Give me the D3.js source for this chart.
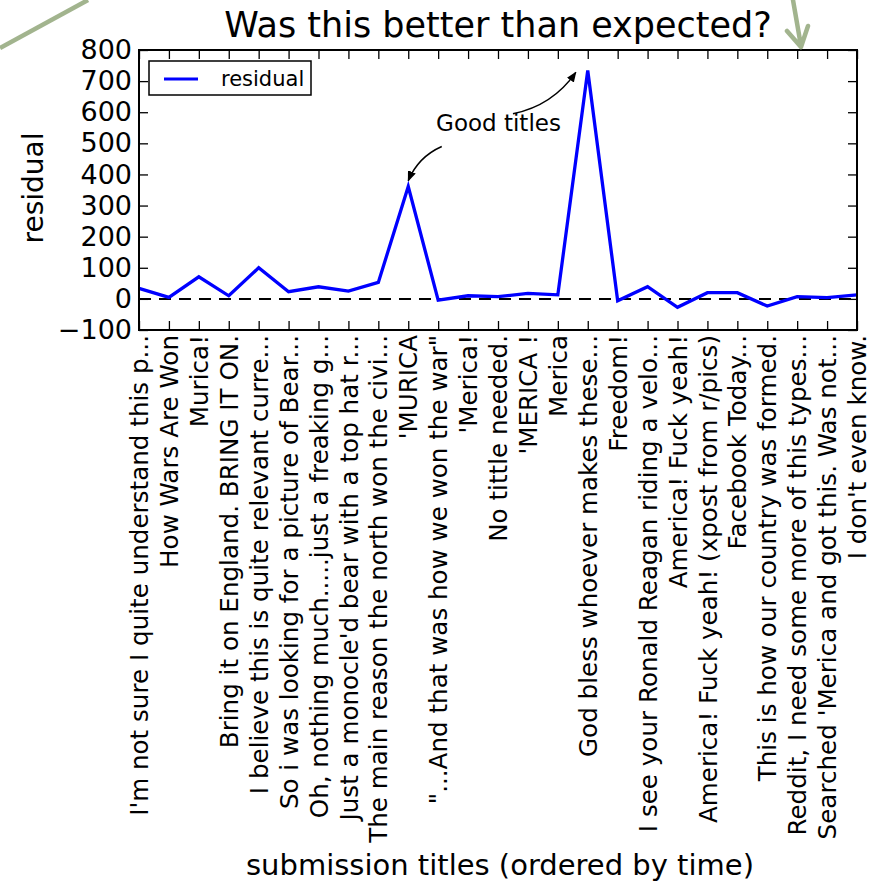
<!DOCTYPE html>
<html>
<head>
<meta charset="utf-8">
<script src="https://cdn.jsdelivr.net/npm/d3@7"></script>
<style>
  body { margin: 0; background: #fff; }
  text { font-family: "DejaVu Sans", sans-serif; fill: #000; }
</style>
</head>
<body>
<div id="chart"></div>
<script>
// submission titles, in time order
const titles = [
    "I'm not sure I quite understand this p...",
    "How Wars Are Won",
    "Murica!",
    "Bring it on England. BRING IT ON.",
    "I believe this is quite relevant curre...",
    "So i was looking for a picture of Bear...",
    "Oh, nothing much.....just a freaking g...",
    "Just a monocle'd bear with a top hat r...",
    "The main reason the north won the civi...",
    "'MURICA",
    "\"...And that was how we won the war\"",
    "'Merica!",
    "No tittle needed.",
    "'MERICA !",
    "Merica",
    "God bless whoever makes these...",
    "Freedom!",
    "I see your Ronald Reagan riding a velo...",
    "America! Fuck yeah!",
    "America! Fuck yeah! (xpost from r/pics)",
    "Facebook Today...",
    "This is how our country was formed.",
    "Reddit, I need some more of this types...",
    "Searched 'Merica and got this. Was not...",
    "I don't even know."
]

const residual = [34, 5, 71, 10, 100, 23, 39, 25, 53, 361, -4, 10, 7, 18, 13,
                  734, -6, 39, -27, 20, 20, -23, 7, 4, 13]

const yTicks = [-100, 0, 100, 200, 300, 400, 500, 600, 700, 800]

var width = 880;
var height = 882;
var margin = {top: 50, right: 23, bottom: 552, left: 139};

var svg = d3.select("#chart")
    .append("svg")
    .attr("width", width)
    .attr("height", height);

var x = d3.scaleLinear()
    .domain([0, titles.length - 1])
    .range([margin.left, width - margin.right]);

var y = d3.scaleLinear()
    .domain([-100, 800])
    .range([height - margin.bottom, margin.top]);

var plotW = width - margin.left - margin.right;
var plotH = height - margin.top - margin.bottom;

// zero reference line
svg.append("line")
    .attr("x1", x(0)).attr("x2", x(titles.length - 1))
    .attr("y1", y(0)).attr("y2", y(0))
    .attr("stroke", "#000")
    .attr("stroke-width", 2)
    .attr("stroke-dasharray", "12,8");

// the residual line
var line = d3.line()
    .x((d, i) => x(i))
    .y(d => y(d));

svg.append("path")
    .datum(residual)
    .attr("d", line)
    .attr("fill", "none")
    .attr("stroke", "#0000ff")
    .attr("stroke-width", 3.3)
    .attr("stroke-linejoin", "miter");

// axes, ticks pointing inward like matplotlib classic
var axisL = svg.append("g")
    .attr("transform", "translate(" + margin.left + ",0)")
    .call(d3.axisLeft(y).tickValues(yTicks).tickSize(-9).tickPadding(7).tickSizeOuter(0));

var axisR = svg.append("g")
    .attr("transform", "translate(" + (width - margin.right) + ",0)")
    .call(d3.axisRight(y).tickValues(yTicks).tickSize(-9).tickSizeOuter(0).tickFormat(""));

var axisB = svg.append("g")
    .attr("transform", "translate(0," + (height - margin.bottom) + ")")
    .call(d3.axisBottom(x).tickValues(d3.range(titles.length)).tickSize(-9).tickSizeOuter(0)
        .tickFormat(i => titles[i]));

var axisT = svg.append("g")
    .attr("transform", "translate(0," + margin.top + ")")
    .call(d3.axisTop(x).tickValues(d3.range(titles.length)).tickSize(-9).tickSizeOuter(0)
        .tickFormat(""));

[axisL, axisR, axisB, axisT].forEach(g => {
    g.select(".domain").remove();
    g.selectAll(".tick line").attr("stroke", "#000").attr("stroke-width", 1.3);
});

axisL.selectAll(".tick text")
    .style("font-size", "27px")
    .attr("fill", "#000");

axisB.selectAll(".tick text")
    .style("font-size", "24.6px")
    .attr("fill", "#000")
    .attr("transform", "rotate(-90)")
    .attr("text-anchor", "end")
    .attr("x", -5)
    .attr("y", 0)
    .attr("dy", "0.35em");

// frame
svg.append("rect")
    .attr("x", margin.left).attr("y", margin.top)
    .attr("width", plotW).attr("height", plotH)
    .attr("fill", "none")
    .attr("stroke", "#000")
    .attr("stroke-width", 2);

// title and axis labels
svg.append("text")
    .attr("x", margin.left + plotW / 2)
    .attr("y", 37)
    .attr("text-anchor", "middle")
    .style("font-size", "35px")
    .text("Was this better than expected?");

svg.append("text")
    .attr("x", margin.left + plotW / 2 + 2)
    .attr("y", 875)
    .attr("text-anchor", "middle")
    .style("font-size", "29px")
    .text("submission titles (ordered by time)");

svg.append("text")
    .attr("transform", "translate(43," + (margin.top + plotH / 2 - 2) + ") rotate(-90)")
    .attr("text-anchor", "middle")
    .style("font-size", "28px")
    .text("residual");

// legend
var legend = svg.append("g")
    .attr("transform", "translate(" + (margin.left + 10) + "," + (margin.top + 11) + ")");

legend.append("rect")
    .attr("width", 162).attr("height", 34)
    .attr("fill", "#fff")
    .attr("stroke", "#000")
    .attr("stroke-width", 1.5);

legend.append("line")
    .attr("x1", 15).attr("x2", 49)
    .attr("y1", 18).attr("y2", 18)
    .attr("stroke", "#0000ff")
    .attr("stroke-width", 3);

legend.append("text")
    .attr("x", 72).attr("y", 25)
    .style("font-size", "21px")
    .text("residual");

// "Good titles" annotation with two curved arrows
svg.append("defs").append("marker")
    .attr("id", "head")
    .attr("viewBox", "0 0 10 10")
    .attr("refX", 9).attr("refY", 5)
    .attr("markerWidth", 7).attr("markerHeight", 7)
    .attr("markerUnits", "strokeWidth")
    .attr("orient", "auto")
    .append("path")
    .attr("d", "M0,1 L10,5 L0,9 z")
    .attr("fill", "#000");

var labelX = 12, labelY = 540;
svg.append("text")
    .attr("x", x(labelX) + 0.5)
    .attr("y", y(labelY))
    .attr("text-anchor", "middle")
    .style("font-size", "23px")
    .text("Good titles");

function arc3(p0, p2, rad) {
    var mx = (p0[0] + p2[0]) / 2, my = (p0[1] + p2[1]) / 2;
    var dx = p2[0] - p0[0], dy = p2[1] - p0[1];
    var cx = mx + rad * dy, cy = my - rad * dx;
    return "M" + p0[0] + "," + p0[1] + " Q" + cx + "," + cy + " " + p2[0] + "," + p2[1];
}

var arrows = [
    {from: [x(10.12), y(490)], to: [x(9), y(380)], rad: -0.2},
    {from: [x(12.5), y(595)], to: [x(14.6), y(728)], rad: -0.2}
];

arrows.forEach(a => {
    svg.append("path")
        .attr("d", arc3(a.from, a.to, a.rad))
        .attr("fill", "none")
        .attr("stroke", "#000")
        .attr("stroke-width", 1.5)
        .attr("marker-end", "url(#head)");
});

// green hand-drawn marks around the picture
var green = "#a2b48e";
svg.append("path")
    .attr("d", "M0,48 L88,0")
    .attr("stroke", green).attr("stroke-width", 4.5)
    .attr("fill", "none");

svg.append("path")
    .attr("d", "M793,0 L801,46 M787,31 L801,47 L808,26")
    .attr("stroke", green).attr("stroke-width", 4.5)
    .attr("stroke-linecap", "round").attr("stroke-linejoin", "round")
    .attr("fill", "none");
</script>
</body>
</html>
